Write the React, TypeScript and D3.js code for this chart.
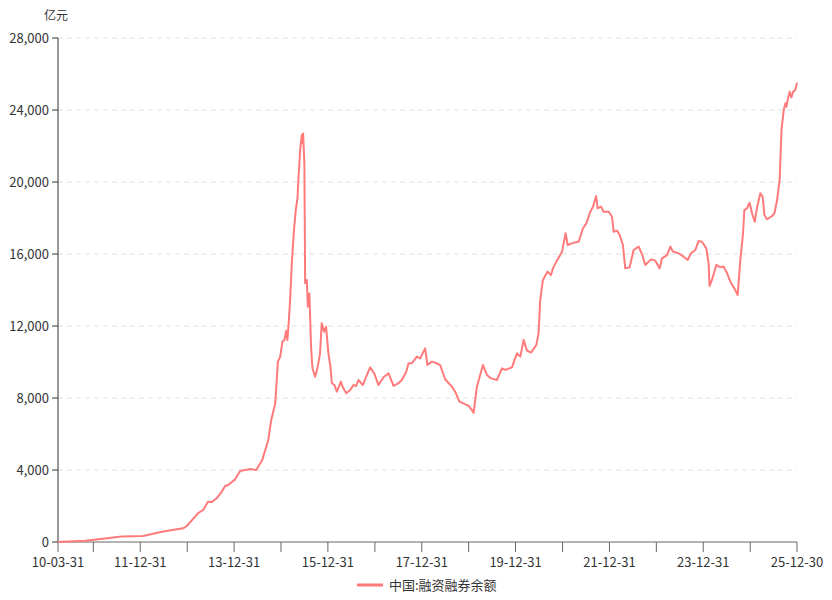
import React from "react";
import * as d3 from "d3";

// 中国:融资融券余额 (亿元)
const dates = [
  "2010-03-31", "2010-10-28", "2011-04-01", "2011-08-09", "2012-01-22", "2012-06-17", "2012-11-29", "2012-12-28",
  "2013-02-06", "2013-03-27", "2013-05-05", "2013-06-10", "2013-07-11", "2013-08-19", "2013-09-26", "2013-10-22",
  "2013-11-14", "2014-01-08", "2014-02-16", "2014-05-05", "2014-06-21", "2014-08-07", "2014-09-23", "2014-10-16",
  "2014-11-16", "2014-12-07", "2014-12-25", "2015-01-11", "2015-01-27", "2015-02-09", "2015-02-19", "2015-02-27",
  "2015-03-12", "2015-03-25", "2015-04-12", "2015-04-25", "2015-05-08", "2015-05-16", "2015-05-29", "2015-06-11",
  "2015-06-16", "2015-06-21", "2015-07-01", "2015-07-07", "2015-07-20", "2015-07-28", "2015-08-09", "2015-08-22",
  "2015-09-02", "2015-09-23", "2015-10-13", "2015-10-31", "2015-11-13", "2015-12-01", "2015-12-17", "2016-01-04",
  "2016-01-20", "2016-01-31", "2016-02-20", "2016-03-10", "2016-04-10", "2016-04-23", "2016-05-22", "2016-06-22",
  "2016-07-17", "2016-08-07", "2016-08-25", "2016-09-28", "2016-10-30", "2016-11-24", "2016-12-28", "2017-01-28",
  "2017-03-08", "2017-04-16", "2017-05-25", "2017-07-03", "2017-07-29", "2017-09-01", "2017-09-19", "2017-10-15",
  "2017-11-23", "2017-12-19", "2018-01-26", "2018-02-13", "2018-03-19", "2018-04-27", "2018-05-23", "2018-07-01",
  "2018-08-22", "2018-09-17", "2018-10-20", "2018-11-20", "2018-12-30", "2019-01-25", "2019-02-07", "2019-03-05",
  "2019-04-21", "2019-05-22", "2019-06-22", "2019-08-08", "2019-09-16", "2019-10-12", "2019-12-03", "2020-01-11",
  "2020-02-06", "2020-03-03", "2020-03-29", "2020-04-29", "2020-06-09", "2020-06-27", "2020-07-10", "2020-07-31",
  "2020-09-05", "2020-10-02", "2020-10-17", "2020-11-17", "2020-12-27", "2021-01-24", "2021-02-09", "2021-03-14",
  "2021-05-05", "2021-06-08", "2021-07-04", "2021-08-04", "2021-08-25", "2021-09-18", "2021-09-30", "2021-10-27",
  "2021-11-16", "2021-12-25", "2022-01-20", "2022-02-02", "2022-02-28", "2022-03-20", "2022-04-15", "2022-05-03",
  "2022-06-06", "2022-07-07", "2022-08-15", "2022-09-10", "2022-10-06", "2022-11-20", "2022-12-23", "2023-01-26",
  "2023-02-13", "2023-03-24", "2023-04-19", "2023-05-10", "2023-06-22", "2023-07-31", "2023-09-01", "2023-09-27",
  "2023-10-30", "2023-11-25", "2023-12-21", "2024-01-24", "2024-02-11", "2024-02-18", "2024-03-08", "2024-04-11",
  "2024-05-12", "2024-06-07", "2024-07-04", "2024-07-29", "2024-08-29", "2024-09-24", "2024-10-16", "2024-11-05",
  "2024-11-15", "2024-12-06", "2024-12-26", "2025-01-14", "2025-02-04", "2025-02-23", "2025-03-20", "2025-04-07",
  "2025-04-20", "2025-05-11", "2025-06-19", "2025-07-07", "2025-07-28", "2025-08-17", "2025-08-31", "2025-09-18",
  "2025-10-01", "2025-10-09", "2025-10-19", "2025-11-03", "2025-11-16", "2025-11-30", "2025-12-17", "2025-12-30",
];

const values = [
  0, 70, 200, 300, 330, 570, 760, 890,
  1220, 1610, 1780, 2240, 2220, 2440, 2800, 3110,
  3170, 3480, 3950, 4050, 4000, 4550, 5670, 6780,
  7700, 10020, 10300, 11130, 11220, 11740, 11220, 11960,
  13440, 15480, 17430, 18440, 19090, 20200, 21780, 22610,
  22150, 22700, 21040, 14370, 14560, 13070, 13810, 10850,
  9650, 9180, 9740, 10480, 12150, 11680, 11960, 10480,
  9740, 8820, 8720, 8350, 8910, 8630, 8260, 8440,
  8720, 8670, 9000, 8720, 9280, 9700, 9330, 8720,
  9150, 9370, 8670, 8820, 9000, 9460, 9930, 9930,
  10300, 10200, 10760, 9830, 10020, 9930, 9830, 9040,
  8630, 8350, 7800, 7700, 7560, 7330, 7180, 8630,
  9830, 9280, 9090, 9000, 9650, 9560, 9700, 10480,
  10300, 11220, 10630, 10520, 10940, 11590, 13440, 14560,
  15020, 14830, 15200, 15630, 16130, 17150, 16500, 16590,
  16690, 17430, 17700, 18350, 18630, 19220, 18540, 18630,
  18350, 18350, 18070, 17240, 17300, 17060, 16500, 15200,
  15260, 16220, 16410, 16000, 15390, 15700, 15630, 15200,
  15760, 15940, 16410, 16130, 16040, 15850, 15670, 16040,
  16220, 16720, 16680, 16310, 15480, 14220, 14560, 15390,
  15260, 15300, 14930, 14460, 14090, 13720, 15760, 17150,
  18440, 18540, 18850, 18260, 17790, 18630, 19370, 19180,
  18170, 17930, 18110, 18260, 19000, 20110, 22890, 24000,
  24370, 24180, 24590, 25020, 24700, 25020, 25110, 25520,
];

const tickDates = [
  "2010-03-31", "2010-12-31", "2011-12-31", "2012-12-31", "2013-12-31", "2014-12-31", "2015-12-31", "2016-12-31",
  "2017-12-31", "2018-12-31", "2019-12-31", "2020-12-31", "2021-12-31", "2022-12-31", "2023-12-31", "2024-12-31",
  "2025-12-30",
];
const labelledTicks = [
  "10-03-31", "11-12-31", "13-12-31", "15-12-31", "17-12-31", "19-12-31", "21-12-31", "23-12-31", "25-12-30",
];
const yTicks = [0, 4000, 8000, 12000, 16000, 20000, 24000, 28000];

const seriesName = "中国:融资融券余额";
const unit = "亿元";

const parse = d3.timeParse("%Y-%m-%d");
const fmtShort = d3.timeFormat("%y-%m-%d");

export default function App() {
  const width = 832;
  const height = 600;
  const margin = { left: 58, right: 35, top: 38, bottom: 58 };
  const color = "#ff7b7b";
  const font = "'Noto Sans CJK SC', 'Noto Sans', sans-serif";

  const points = dates.map((d, i) => ({ date: parse(d) as Date, value: values[i] }));

  const x = d3
    .scaleTime()
    .domain([parse(dates[0]) as Date, parse(dates[dates.length - 1]) as Date])
    .range([margin.left, width - margin.right]);
  const y = d3
    .scaleLinear()
    .domain([0, 28000])
    .range([height - margin.bottom, margin.top]);

  const line = d3
    .line<{ date: Date; value: number }>()
    .x((d) => x(d.date))
    .y((d) => y(d.value));

  const fmtY = d3.format(",");
  const y0 = y(0);

  return (
    <svg
      width={width}
      height={height}
      style={{ position: "absolute", left: 0, top: 0, background: "#fff" }}
      fontFamily={font}
    >
      {/* grid */}
      {yTicks.filter((t) => t > 0).map((t) => (
        <line
          key={"g" + t}
          x1={x.range()[0]}
          x2={x.range()[1]}
          y1={y(t)}
          y2={y(t)}
          stroke="#e0e0e0"
          strokeDasharray="5,4"
        />
      ))}

      {/* y axis */}
      <line x1={margin.left} x2={margin.left} y1={margin.top} y2={y0} stroke="#333" />
      {yTicks.map((t) => (
        <g key={"y" + t}>
          <line x1={margin.left - 6} x2={margin.left} y1={y(t)} y2={y(t)} stroke="#333" />
          <text x={margin.left - 9} y={y(t)} dy="0.35em" textAnchor="end" fontSize={13} fill="#333">
            {fmtY(t)}
          </text>
        </g>
      ))}
      <text x={56} y={16} dy="0.35em" textAnchor="middle" fontSize={12} fill="#333">
        {unit}
      </text>

      {/* x axis */}
      <line x1={x.range()[0]} x2={x.range()[1]} y1={y0} y2={y0} stroke="#666" />
      {tickDates.map((d) => {
        const dt = parse(d) as Date;
        const lbl = fmtShort(dt);
        return (
          <g key={"x" + d}>
            <line x1={x(dt)} x2={x(dt)} y1={y0} y2={y0 + 10} stroke="#666" />
            {labelledTicks.includes(lbl) && (
              <text x={x(dt)} y={y0 + 20} dy="0.35em" textAnchor="middle" fontSize={13} fill="#333">
                {lbl}
              </text>
            )}
          </g>
        );
      })}

      {/* series */}
      <path d={line(points) || ""} fill="none" stroke={color} strokeWidth={2} strokeLinejoin="round" />

      {/* legend */}
      <line x1={357} x2={383} y1={585} y2={585} stroke={color} strokeWidth={3} />
      <text x={389} y={585} dy="0.35em" fontSize={13} fill="#333">
        {seriesName}
      </text>
    </svg>
  );
}
